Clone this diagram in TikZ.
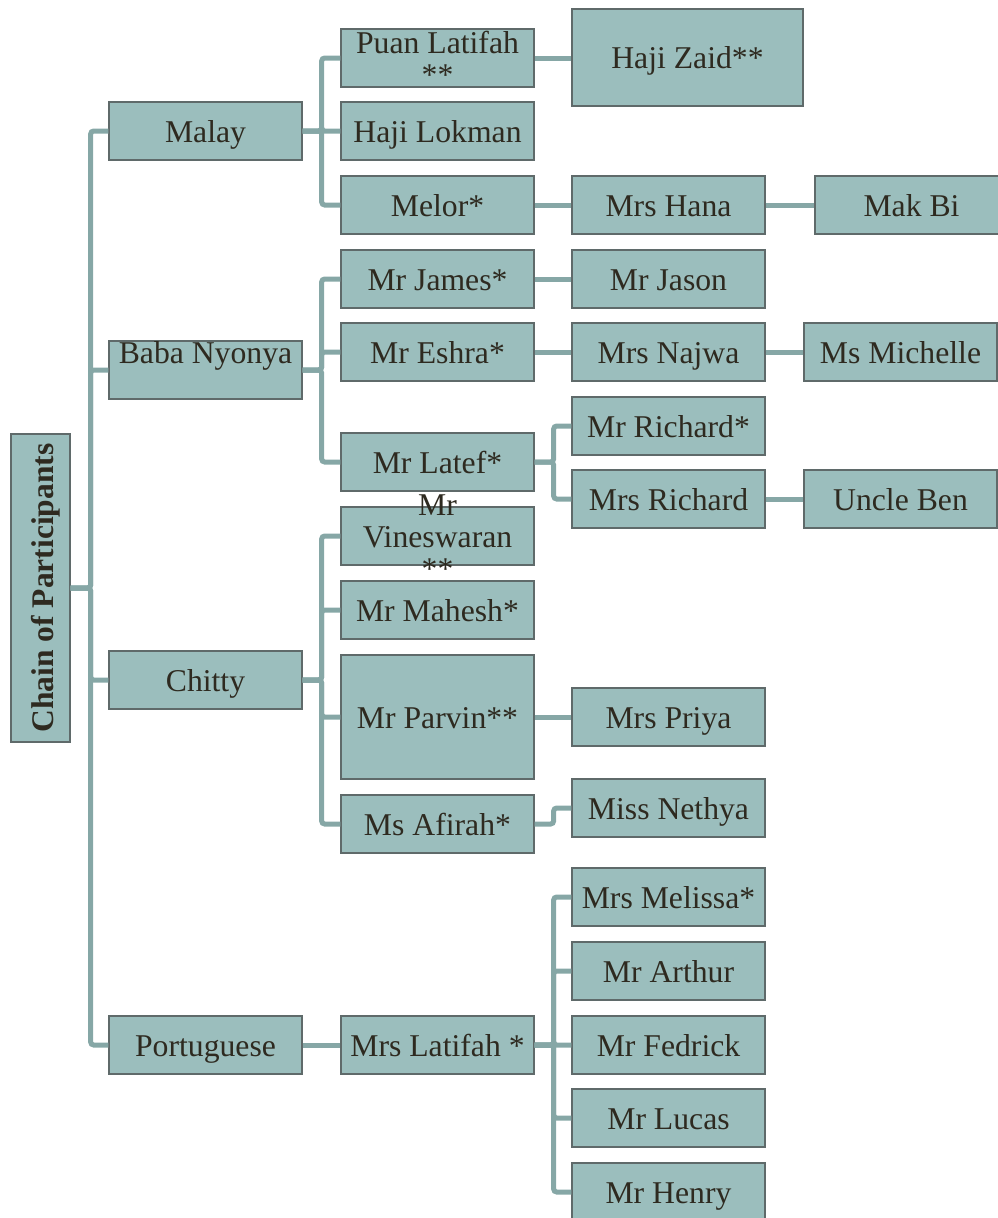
\documentclass[tikz,border=0pt]{standalone}
\usepackage{fontspec}
\setmainfont{Liberation Serif}
\usetikzlibrary{positioning}
\definecolor{boxfill}{RGB}{155,190,189}
\definecolor{boxline}{RGB}{95,106,106}
\definecolor{linkteal}{RGB}{134,167,166}
\definecolor{inktext}{RGB}{46,42,32}

\begin{document}
\begin{tikzpicture}[x=1pt, y=-1pt]
\tikzset{
  p/.style={draw=boxline, line width=1.3pt, fill=boxfill, text=inktext, inner sep=0pt, minimum width=193pt, minimum height=58pt, text height=40pt, text depth=18pt, font=\fontsize{31.7}{32}\selectfont},
  link/.style={draw=linkteal, line width=5pt, rounded corners=3pt}
}
\useasboundingbox (0,0) rectangle (997,1218);
% root
\node[p, rotate=90, minimum width=308pt, minimum height=59pt, text height=42pt, text depth=17pt, font=\bfseries\fontsize{31.5}{32}\selectfont] (root) at (40.5,588) {Chain of Participants};
% groups
\node[p] (malay) at (205.5,131) {Malay};
\node[p, text height=22pt, text depth=36pt] (baba) at (205.5,370) {Baba Nyonya};
\node[p] (chitty) at (205.5,680) {Chitty};
\node[p] (portu) at (205.5,1045) {Portuguese};
% second column
\node[p] (puan) at (437.5,58) {\smash{\begin{tabular}{@{}c@{}}Puan Latifah\\{}**\end{tabular}}};
\node[p] (lokman) at (437.5,131) {Haji Lokman};
\node[p] (melor) at (437.5,205) {Melor*};
\node[p] (james) at (437.5,279) {Mr James*};
\node[p] (eshra) at (437.5,352) {Mr Eshra*};
\node[p] (latef) at (437.5,462) {Mr Latef*};
\node[p] (vines) at (437.5,536) {\smash{\begin{tabular}{@{}c@{}}Mr\\Vineswaran\\{}**\end{tabular}}};
\node[p] (mahesh) at (437.5,610) {Mr Mahesh*};
\node[p, minimum height=124pt, text height=73pt, text depth=51pt] (parvin) at (437.5,717) {Mr Parvin**};
\node[p] (afirah) at (437.5,824) {Ms Afirah*};
\node[p] (mlatifah) at (437.5,1045) {Mrs Latifah *};
% third column
\node[p, minimum width=231pt, minimum height=97pt, text height=59.5pt, text depth=37.5pt] (zaid) at (687.5,57.5) {Haji Zaid**};
\node[p] (hana) at (668.5,205) {Mrs Hana};
\node[p] (jason) at (668.5,279) {Mr Jason};
\node[p] (najwa) at (668.5,352) {Mrs Najwa};
\node[p] (richard) at (668.5,426) {Mr Richard*};
\node[p] (mrsrichard) at (668.5,499) {Mrs Richard};
\node[p] (priya) at (668.5,717) {Mrs Priya};
\node[p] (nethya) at (668.5,808) {Miss Nethya};
\node[p] (melissa) at (668.5,897) {Mrs Melissa*};
\node[p] (arthur) at (668.5,971) {Mr Arthur};
\node[p] (fedrick) at (668.5,1045) {Mr Fedrick};
\node[p] (lucas) at (668.5,1118) {Mr Lucas};
\node[p] (henry) at (668.5,1192) {Mr Henry};
% fourth column
\node[p] (makbi) at (911.5,205) {Mak Bi};
\node[p] (michelle) at (900.5,352) {Ms Michelle};
\node[p] (uncleben) at (900.5,499) {Uncle Ben};
% links
\foreach \c in {malay,baba,chitty,portu}
  \draw[link] (root.south) -- ++(20,0) |- (\c.west);
\foreach \c in {puan,lokman,melor}
  \draw[link] (malay.east) -- ++(19,0) |- (\c.west);
\foreach \c in {james,eshra,latef}
  \draw[link] (baba.east) -- ++(19,0) |- (\c.west);
\foreach \c in {vines,mahesh,parvin,afirah}
  \draw[link] (chitty.east) -- ++(19,0) |- (\c.west);
\draw[link] (portu) -- (mlatifah);
\draw[link] (puan.east) -- (puan.east -| zaid.west);
\draw[link] (melor) -- (hana);
\draw[link] (hana) -- (makbi);
\draw[link] (james) -- (jason);
\draw[link] (eshra) -- (najwa);
\draw[link] (najwa) -- (michelle);
\foreach \c in {richard,mrsrichard}
  \draw[link] (latef.east) -- ++(19,0) |- (\c.west);
\draw[link] (mrsrichard) -- (uncleben);
\draw[link] (parvin) -- (priya);
\draw[link] (afirah.east) -- ++(19,0) |- (nethya.west);
\foreach \c in {melissa,arthur,fedrick,lucas,henry}
  \draw[link] (mlatifah.east) -- ++(19,0) |- (\c.west);
\end{tikzpicture}
\end{document}
